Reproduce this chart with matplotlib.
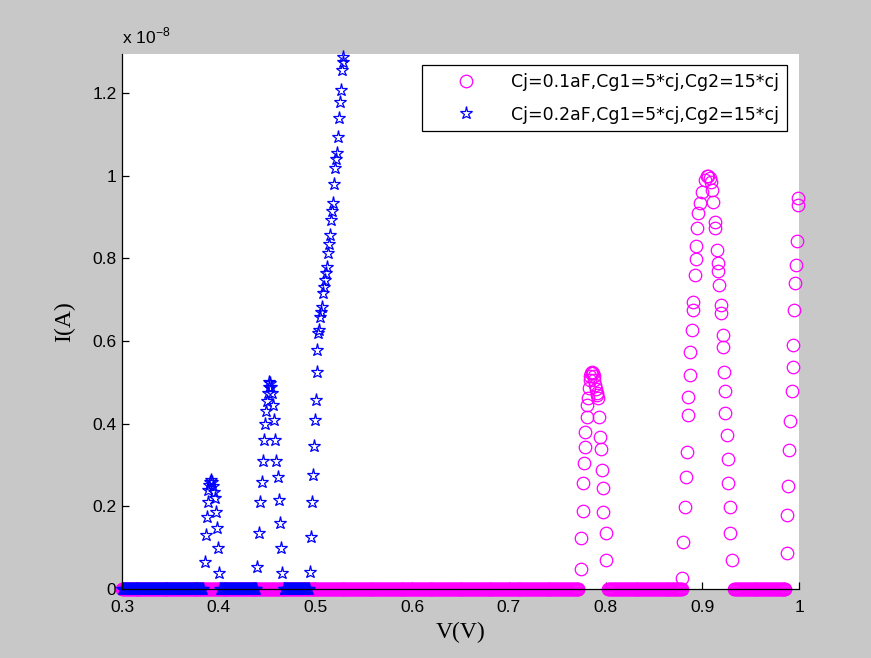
import numpy as np
import matplotlib
matplotlib.use('Agg')
import matplotlib.pyplot as plt

# sweep step of the bias voltage (V)
passo = 0.001

# tratti a corrente nulla (V iniziale, V finale)
zeri_01 = [(0.300, 0.772), (0.803, 0.879), (0.933, 0.986)]
zeri_02 = [(0.300, 0.384), (0.401, 0.439), (0.467, 0.493)]

# Cj=0.1aF : picchi di corrente (I in unita' di 1e-8 A)
v01_p1 = [0.7743, 0.7745, 0.7764, 0.7770, 0.7778, 0.7786, 0.7790, 0.7805, 0.7812, 0.7820,
          0.7828, 0.7836, 0.7844, 0.7852, 0.7860, 0.7868, 0.7876, 0.7884, 0.7892, 0.7900,
          0.7908, 0.7915, 0.7922, 0.7930, 0.7945, 0.7950, 0.7965, 0.7972, 0.7978, 0.8000, 0.8005]
i01_p1 = [0.048, 0.123, 0.190, 0.256, 0.305, 0.344, 0.380, 0.416, 0.445, 0.462,
          0.486, 0.505, 0.515, 0.522, 0.525, 0.522, 0.515, 0.505, 0.495, 0.485,
          0.475, 0.470, 0.462, 0.416, 0.368, 0.340, 0.288, 0.244, 0.186, 0.135, 0.070]

v01_p2 = [0.8788, 0.8805, 0.8822, 0.8832, 0.8839, 0.8852, 0.8856, 0.8872, 0.8875, 0.8891,
          0.8906, 0.8908, 0.8925, 0.8934, 0.8936, 0.8949, 0.8960, 0.8977, 0.8995, 0.9029,
          0.9050, 0.9063, 0.9075, 0.9088,
          0.9098, 0.9115, 0.9128, 0.9132, 0.9150, 0.9163, 0.9167, 0.9177, 0.9189, 0.9191,
          0.9212, 0.9218, 0.9225, 0.9236, 0.9240, 0.9253, 0.9268, 0.9270, 0.9285, 0.9288, 0.9305]
i01_p2 = [0.027, 0.114, 0.198, 0.271, 0.331, 0.420, 0.465, 0.518, 0.573, 0.627,
          0.675, 0.694, 0.760, 0.798, 0.830, 0.873, 0.910, 0.934, 0.960, 0.990,
          1.000, 1.000, 0.995, 0.985,
          0.965, 0.936, 0.888, 0.873, 0.820, 0.790, 0.770, 0.735, 0.687, 0.668,
          0.615, 0.585, 0.525, 0.480, 0.426, 0.373, 0.315, 0.256, 0.198, 0.136, 0.070]

v01_p3 = [0.9877, 0.9880, 0.9888, 0.9898, 0.9908, 0.9929, 0.9939, 0.9941, 0.9950, 0.9960,
          0.9970, 0.9980, 0.9991, 0.9993]
i01_p3 = [0.087, 0.180, 0.250, 0.336, 0.406, 0.480, 0.537, 0.590, 0.675, 0.740,
          0.784, 0.842, 0.930, 0.946]

# Cj=0.2aF : picchi di corrente
v02_p1 = [0.3860, 0.3870, 0.3880, 0.3885, 0.3890, 0.3900, 0.3910, 0.3920, 0.3930, 0.3940,
          0.3950, 0.3960, 0.3970, 0.3980, 0.3990, 0.4000]
i02_p1 = [0.065, 0.130, 0.175, 0.210, 0.240, 0.252, 0.260, 0.263, 0.260, 0.250,
          0.235, 0.220, 0.186, 0.148, 0.100, 0.039]

v02_p2 = [0.4396, 0.4416, 0.4427, 0.4445, 0.4455, 0.4465, 0.4475, 0.4485, 0.4495, 0.4505,
          0.4515, 0.4525, 0.4535, 0.4545, 0.4555, 0.4565, 0.4575, 0.4585, 0.4595, 0.4610,
          0.4620, 0.4630, 0.4640, 0.4650]
i02_p2 = [0.053, 0.135, 0.210, 0.260, 0.310, 0.360, 0.400, 0.430, 0.455, 0.475,
          0.490, 0.500, 0.498, 0.490, 0.475, 0.445, 0.410, 0.360, 0.310, 0.270,
          0.215, 0.160, 0.100, 0.038]

v02_p3 = [0.4944, 0.4954, 0.4965, 0.4975, 0.4985, 0.4996, 0.5006, 0.5017, 0.5020, 0.5027,
          0.5035, 0.5048, 0.5058, 0.5068, 0.5079, 0.5089, 0.5099, 0.5110, 0.5120, 0.5130,
          0.5140, 0.5151, 0.5161, 0.5172, 0.5182, 0.5192, 0.5203, 0.5213, 0.5223, 0.5234,
          0.5244, 0.5254, 0.5265, 0.5275, 0.5285, 0.5290]
i02_p3 = [0.040, 0.126, 0.210, 0.276, 0.346, 0.410, 0.457, 0.525, 0.578, 0.620,
          0.627, 0.658, 0.670, 0.682, 0.716, 0.730, 0.748, 0.765, 0.780, 0.813,
          0.835, 0.857, 0.893, 0.915, 0.934, 0.980, 1.020, 1.040, 1.055, 1.094,
          1.140, 1.180, 1.207, 1.256, 1.275, 1.287]

etichette = ['Cj=0.1aF,Cg1=5*cj,Cg2=15*cj', 'Cj=0.2aF,Cg1=5*cj,Cg2=15*cj']


def curva(zeri, picchi):
    v = []
    i = []
    for a, b in zeri:
        tratto = np.arange(a, b + passo / 2, passo)
        v.extend(tratto)
        i.extend([0.0] * len(tratto))
    for pv, pi in picchi:
        v.extend(pv)
        i.extend(pi)
    return np.array(v), np.array(i)


v01, i01 = curva(zeri_01, [(v01_p1, i01_p1), (v01_p2, i01_p2), (v01_p3, i01_p3)])
v02, i02 = curva(zeri_02, [(v02_p1, i02_p1), (v02_p2, i02_p2), (v02_p3, i02_p3)])

fig = plt.figure(figsize=(8.71, 6.58), dpi=100, facecolor='#c8c8c8')
ax = fig.add_axes([122 / 871, 69 / 658, 677 / 871, 535 / 658])
ax.set_facecolor('white')

# i marker sull'asse zero non vengono tagliati dal bordo degli assi
ax.plot(v01, i01, linestyle='none', marker='o', markersize=9, markerfacecolor='none',
        markeredgecolor='#ff00ff', markeredgewidth=0.9, label=etichette[0], clip_on=False)
ax.plot(v02, i02, linestyle='none', marker='*', markersize=9.5, markerfacecolor='none',
        markeredgecolor='#0000ff', markeredgewidth=0.9, label=etichette[1], clip_on=False)

ax.set_xlim(0.3, 1.0)
ax.set_ylim(0, 1.295)
ax.set_xticks([0.3, 0.4, 0.5, 0.6, 0.7, 0.8, 0.9, 1.0])
ax.set_xticklabels(['0.3', '0.4', '0.5', '0.6', '0.7', '0.8', '0.9', '1'])
ax.set_yticks([0, 0.2, 0.4, 0.6, 0.8, 1.0, 1.2])
ax.set_yticklabels(['0', '0.2', '0.4', '0.6', '0.8', '1', '1.2'])

ax.spines['top'].set_visible(False)
ax.spines['right'].set_visible(False)
for s in ['left', 'bottom']:
    ax.spines[s].set_linewidth(0.9)
ax.tick_params(direction='in', length=5, width=0.9, labelsize=12.5, pad=4)
ax.tick_params(axis='x', pad=8)
for t in ax.get_xticklabels() + ax.get_yticklabels():
    t.set_family('Liberation Sans')

ax.set_xlabel('V(V)', family='Liberation Serif', fontsize=17, labelpad=5)
ax.set_ylabel('I(A)', family='Liberation Serif', fontsize=17, labelpad=12)

fig.text(122 / 871, 1 - 43 / 658, 'x 10$^{\\mathregular{-8}}$', family='Liberation Sans',
         fontsize=12.5, ha='left', va='baseline')

leg = ax.legend(loc='upper right', bbox_to_anchor=(787 / 871, 1 - 65 / 658),
                bbox_transform=fig.transFigure, borderaxespad=0, fancybox=False,
                edgecolor='black', framealpha=1, handlelength=4.2, handletextpad=0.5,
                borderpad=0.45, labelspacing=0.85, prop={'family': 'DejaVu Sans', 'size': 12.5})
leg.get_frame().set_linewidth(0.9)

fig.savefig('out.png', dpi=100, facecolor=fig.get_facecolor())
